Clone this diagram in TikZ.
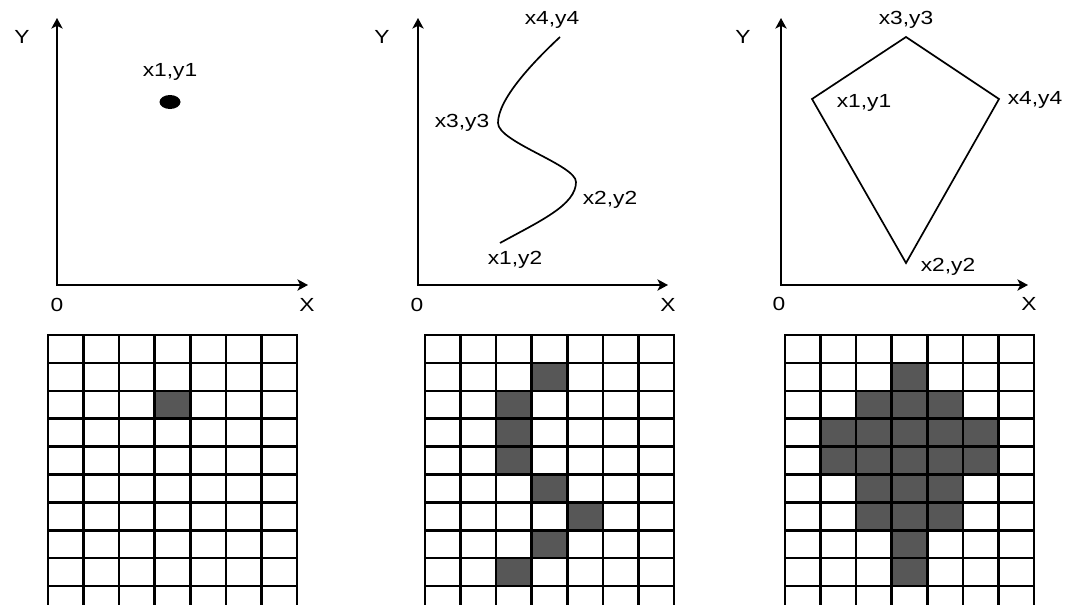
\documentclass[tikz,border=0pt]{standalone}
\usepackage{fontspec}
\setmainfont[FakeStretch=1.2]{Liberation Sans}
\usepackage{tikz}
\usetikzlibrary{arrows.meta}
\definecolor{cellgray}{HTML}{575757}

\begin{document}
\begin{tikzpicture}[x=0.025cm,y=-0.025cm,
    axis/.style={line width=1.4pt,{Stealth[length=7.5pt,width=8pt,inset=2pt]}-{Stealth[length=7.5pt,width=8pt,inset=2pt]}},
    lbl/.style={font=\fontsize{13.5}{15}\selectfont,inner sep=1pt},
    outline/.style={line width=1.2pt},
    cellline/.style={line width=1.8pt,line cap=rect},
    cellfill/.style={fill=cellgray}]
    \useasboundingbox (0,0) rectangle (1079,605);

    % point
    \coordinate (ytipA) at (57,18);
    \coordinate (origA) at (57,285);
    \coordinate (xtipA) at (308,285);
    \draw[axis] (ytipA) -- (origA) -- (xtipA);
    \node[lbl] (yA) at (22,37) {Y};
    \node[lbl] (zA) at (57,305) {0};
    \node[lbl] (xA) at (307,305) {X};
    \fill (170,102) ellipse [x radius=10.5, y radius=7];
    \node[lbl] (p1) at (170,72) {x1,y1};

    % curve
    \coordinate (ytipB) at (418,18);
    \coordinate (origB) at (418,285);
    \coordinate (xtipB) at (668,285);
    \draw[axis] (ytipB) -- (origB) -- (xtipB);
    \node[lbl] (yB) at (382,37) {Y};
    \node[lbl] (zB) at (417,305) {0};
    \node[lbl] (xB) at (668,305) {X};
    \coordinate (c1) at (500,243);
    \coordinate (c2) at (576,182);
    \coordinate (c3) at (498,123);
    \coordinate (c4) at (560,37);
    \draw[outline] (c1) .. controls (540,221) and (576,205) .. (c2)
        .. controls (576,165) and (498,142) .. (c3)
        .. controls (498,100) and (530,65) .. (c4);
    \node[lbl] (q4) at (552,20) {x4,y4};
    \node[lbl] (q3) at (462,123) {x3,y3};
    \node[lbl] (q2) at (610,200) {x2,y2};
    \node[lbl] (q1) at (515,260) {x1,y2};

    % kite
    \coordinate (ytipC) at (781,18);
    \coordinate (origC) at (781,285);
    \coordinate (xtipC) at (1028,285);
    \draw[axis] (ytipC) -- (origC) -- (xtipC);
    \node[lbl] (yC) at (743,37) {Y};
    \node[lbl] (zC) at (779,304) {0};
    \node[lbl] (xC) at (1029,304) {X};
    \coordinate (k1) at (812,99);
    \coordinate (k2) at (906,263);
    \coordinate (k3) at (906,37);
    \coordinate (k4) at (999,99);
    \draw[outline,line join=miter] (k1) -- (k3) -- (k4) -- (k2) -- cycle;
    \node[lbl] (r3) at (906,20) {x3,y3};
    \node[lbl] (r1) at (864,103) {x1,y1};
    \node[lbl] (r4) at (1035,100) {x4,y4};
    \node[lbl] (r2) at (948,267) {x2,y2};

    % raster grids
    \begin{scope}[shift={(48,335)},xscale=35.57,yscale=27.9]
        \fill[cellfill] (3,2) rectangle (4,3);
        \foreach \i in {0,...,7} \draw[cellline] (\i,0) -- (\i,9.7);
        \foreach \j in {0,...,9} \draw[cellline] (0,\j) -- (7,\j);
    \end{scope}

    \begin{scope}[shift={(425,335)},xscale=35.57,yscale=27.9]
        \fill[cellfill] (3,1) rectangle (4,2);
        \fill[cellfill] (2,2) rectangle (3,5);
        \fill[cellfill] (3,5) rectangle (4,6);
        \fill[cellfill] (4,6) rectangle (5,7);
        \fill[cellfill] (3,7) rectangle (4,8);
        \fill[cellfill] (2,8) rectangle (3,9);
        \foreach \i in {0,...,7} \draw[cellline] (\i,0) -- (\i,9.7);
        \foreach \j in {0,...,9} \draw[cellline] (0,\j) -- (7,\j);
    \end{scope}

    \begin{scope}[shift={(785,335)},xscale=35.57,yscale=27.9]
        \fill[cellfill] (3,1) rectangle (4,9);
        \fill[cellfill] (2,2) rectangle (5,7);
        \fill[cellfill] (1,3) rectangle (6,5);
        \foreach \i in {0,...,7} \draw[cellline] (\i,0) -- (\i,9.7);
        \foreach \j in {0,...,9} \draw[cellline] (0,\j) -- (7,\j);
    \end{scope}
\end{tikzpicture}
\end{document}
